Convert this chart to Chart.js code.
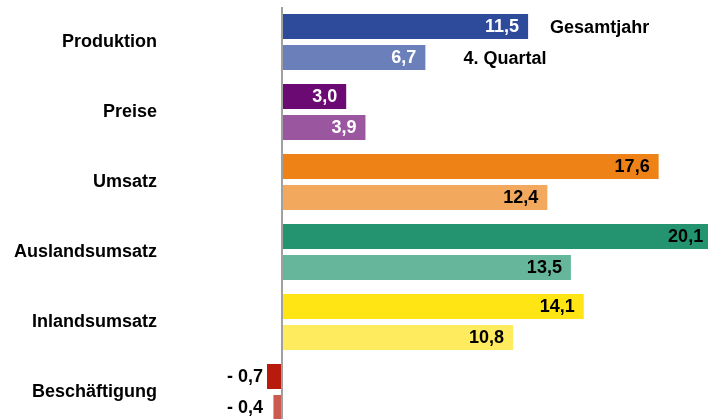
<!DOCTYPE html>
<html>
<head>
<meta charset="utf-8">
<script src="https://cdn.jsdelivr.net/npm/chart.js@4/dist/chart.umd.min.js"></script>
<style>
  html, body { margin: 0; padding: 0; overflow: hidden; background: #fff; }
  canvas { display: block; }
</style>
</head>
<body>
<canvas id="chart" width="720" height="430"></canvas>
<script>
// Werte in Prozent (Veränderung zum Vorjahr)
const categories = ["Produktion", "Preise", "Umsatz", "Auslandsumsatz", "Inlandsumsatz", "Beschäftigung"];
const seriesNames = ["Gesamtjahr", "4. Quartal"];
const gesamtjahr = [11.5, 3.0, 17.6, 20.1, 14.1, -0.7];
const quartal4 = [6.7, 3.9, 12.4, 13.5, 10.8, -0.4];

const darkColors = ["#2e4b9b", "#6b0a72", "#ee8216", "#23946f", "#ffe514", "#b81b0b"];
const lightColors = ["#6b80ba", "#9b56a0", "#f2a95e", "#65b69b", "#ffeb5e", "#cb5a51"];
const darkText = ["#fff", "#fff", "#000", "#000", "#000", "#000"];
const lightText = ["#fff", "#fff", "#000", "#000", "#000", "#000"];

const FONT = { family: "'Liberation Sans', Arial, sans-serif", size: 18, weight: "bold" };
const fontStr = "bold 18px 'Liberation Sans', Arial, sans-serif";

const fmt = (v) => (v < 0 ? "- " : "") + Math.abs(v).toFixed(1).replace(".", ",");

const valueLabels = {
  id: "valueLabels",
  afterDatasetsDraw(chart) {
    const ctx = chart.ctx;
    const zeroX = chart.scales.x.getPixelForValue(0);
    ctx.save();
    ctx.font = fontStr;
    ctx.textBaseline = "middle";
    chart.data.datasets.forEach((ds, di) => {
      const meta = chart.getDatasetMeta(di);
      const textCols = di === 0 ? darkText : lightText;
      meta.data.forEach((bar, i) => {
        const v = ds.data[i];
        ctx.textAlign = "right";
        if (v >= 0) {
          ctx.fillStyle = textCols[i];
          ctx.fillText(fmt(v), bar.x - 9, bar.y + 1);
        } else {
          ctx.fillStyle = "#000";
          ctx.fillText(fmt(v), zeroX - 19, bar.y + 1);
        }
      });
      // Serienname neben dem ersten Balken
      const first = meta.data[0];
      ctx.textAlign = "left";
      ctx.fillStyle = "#000";
      ctx.fillText(ds.label, first.x + (di === 0 ? 22 : 38), first.y + 2);
    });
    ctx.restore();
  }
};

new Chart(document.getElementById("chart"), {
  type: "bar",
  data: {
    labels: categories,
    datasets: [
      { label: seriesNames[0], data: gesamtjahr, backgroundColor: darkColors },
      { label: seriesNames[1], data: quartal4, backgroundColor: lightColors }
    ]
  },
  options: {
    indexAxis: "y",
    responsive: false,
    animation: false,
    devicePixelRatio: 1,
    categoryPercentage: 0.886,
    barPercentage: 0.806,
    layout: { padding: { top: 7, bottom: 3, left: 0, right: 0 } },
    plugins: {
      legend: { display: false },
      tooltip: { enabled: false }
    },
    scales: {
      x: {
        display: true,
        min: -(282 - 200) / 21.4,
        max: (720 - 282) / 21.4,
        ticks: { display: false },
        afterBuildTicks: (scale) => { scale.ticks = [{ value: 0 }]; },
        afterFit: (scale) => { scale.height = 0; },
        border: { display: false },
        grid: { drawTicks: false, lineWidth: 2, color: "#a0a0a0" }
      },
      y: {
        grid: { display: false, drawTicks: false },
        border: { display: false },
        ticks: { color: "#000", font: FONT, padding: 43 },
        afterFit: (scale) => {
          scale.width = 200;
          scale.paddingTop = 0;
          scale.paddingBottom = 0;
        }
      }
    }
  },
  plugins: [valueLabels]
});
</script>
</body>
</html>
